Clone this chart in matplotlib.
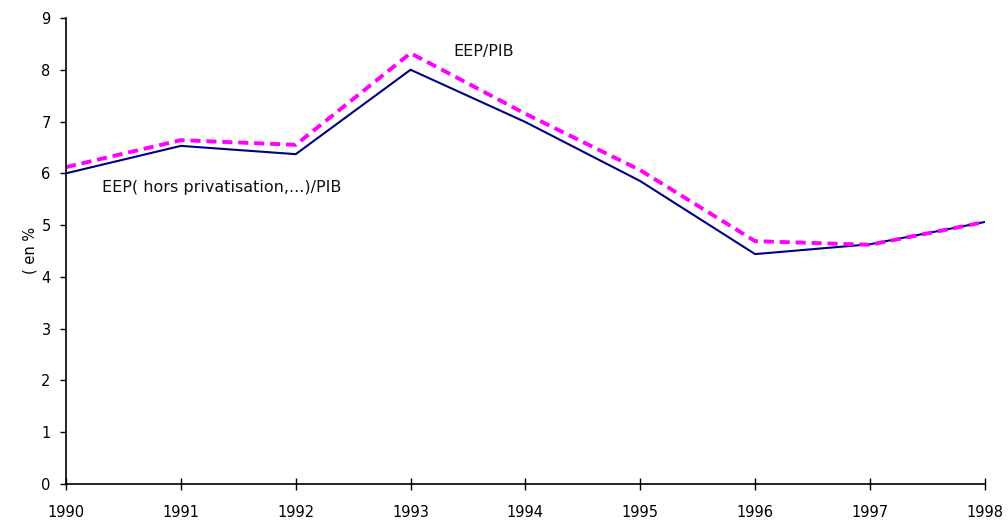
import matplotlib
matplotlib.use("Agg")
import matplotlib.pyplot as plt

years = [1990, 1991, 1992, 1993, 1994, 1995, 1996, 1997, 1998]
eep_pib = [6.12, 6.64, 6.55, 8.32, 7.15, 6.06, 4.69, 4.62, 5.06]
eep_hors = [6.0, 6.53, 6.37, 8.0, 6.99, 5.85, 4.44, 4.63, 5.06]
yticks = list(range(0, 10))

plt.rcParams['font.family'] = ['DejaVu Sans']

fig = plt.figure(figsize=(10.08, 5.21), dpi=100)
ax = fig.add_axes([0.0655, 0.071, 0.9115, 0.8945])

ax.plot(years, eep_hors, color='#000080', lw=1.5, solid_joinstyle='miter')
ax.plot(years, eep_pib, color='#ff00ff', lw=2.8, dashes=(2.6, 1.5))

ax.set_xlim(1990, 1998)
ax.set_ylim(0, 9)
ax.set_xticks(years)
ax.set_yticks(yticks)
ax.tick_params(axis='x', direction='inout', length=8, width=1, labelsize=10.5, pad=11)
ax.tick_params(axis='y', direction='out', length=4, width=1, labelsize=10.5, pad=7)
for s in ['top', 'right']:
    ax.spines[s].set_visible(False)
for s in ['left', 'bottom']:
    ax.spines[s].set_linewidth(1.2)
    ax.spines[s].set_color('black')

ax.text(1993.37, 8.36, 'EEP/PIB', fontsize=11.5, va='center', ha='left', color='#111111')
ax.text(1990.31, 5.72, 'EEP( hors privatisation,...)/PIB', fontsize=11.5, va='center', ha='left', color='#111111')
fig.text(0.030, 0.52, '( en %', rotation=90, fontsize=10.5, va='center', ha='center')

fig.savefig('out.png', dpi=100)
